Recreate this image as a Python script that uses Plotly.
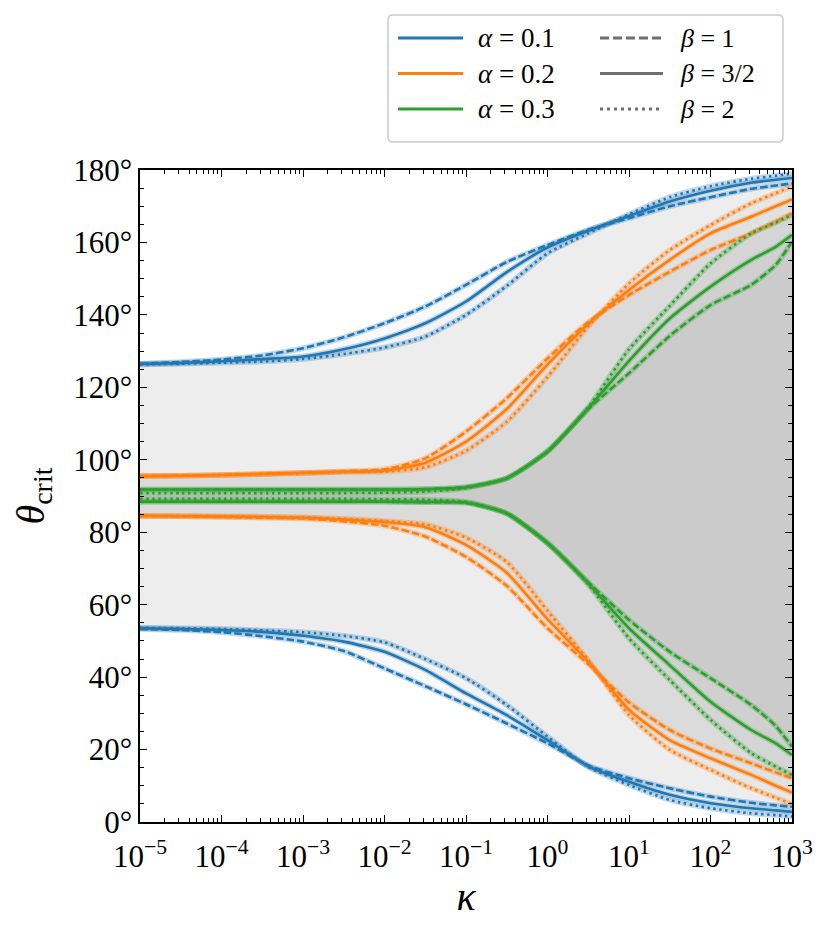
import plotly.graph_objects as go

# kappa sample points (half decades, plus one near the right edge)
kappa = [1e-5, 3.16e-5, 1e-4, 3.16e-4, 1e-3, 3.16e-3, 1e-2, 3.16e-2, 0.1, 0.316,
         1, 3.16, 10, 31.6, 100, 316, 631, 1000]

# alpha = 0.1  (upper / lower branch for beta = 1, 3/2, 2)
a01_b1_up = [126.5, 127.0, 127.7, 128.8, 130.8, 133.8, 137.7, 142.3, 148.3, 154.6, 159.3, 163.5, 166.7, 170.0, 172.5, 174.8, 175.7, 176.3]
a01_b15_up = [126.5, 126.7, 127.2, 127.8, 128.5, 130.5, 133.5, 137.7, 143.7, 151.8, 158.6, 163.3, 167.3, 171.3, 174.3, 176.5, 177.3, 177.8]
a01_b2_up = [126.3, 126.5, 126.8, 127.1, 127.8, 129.2, 131.0, 134.0, 140.0, 148.0, 157.0, 162.5, 167.8, 172.5, 175.5, 177.6, 178.4, 179.0]
a01_b1_lo = [53.3, 53.0, 52.4, 51.3, 49.8, 47.2, 42.4, 37.5, 32.5, 27.2, 21.7, 15.6, 12.1, 9.3, 7.0, 5.3, 4.6, 4.2]
a01_b15_lo = [53.5, 53.3, 53.0, 52.5, 51.4, 49.8, 47.0, 42.0, 35.5, 29.5, 22.6, 15.4, 11.1, 7.5, 5.2, 3.8, 3.2, 2.8]
a01_b2_lo = [53.6, 53.5, 53.3, 52.9, 52.4, 51.4, 49.6, 45.0, 39.7, 32.3, 23.6, 15.2, 10.2, 6.1, 3.8, 2.4, 1.9, 1.5]

# alpha = 0.2
a02_b1_up = [95.5, 95.6, 95.8, 96.1, 96.4, 96.8, 97.4, 100.4, 107.8, 117.0, 128.0, 138.0, 145.5, 151.9, 157.9, 162.5, 165.8, 168.0]
a02_b15_up = [95.5, 95.6, 95.8, 96.1, 96.4, 96.7, 97.0, 99.2, 105.0, 114.0, 126.3, 137.5, 146.9, 155.2, 162.5, 167.1, 170.0, 171.9]
a02_b2_up = [95.5, 95.6, 95.8, 96.0, 96.3, 96.6, 96.7, 97.9, 102.5, 110.5, 122.9, 136.8, 148.7, 157.9, 164.8, 170.8, 173.6, 175.4]
a02_b1_lo = [84.5, 84.4, 84.2, 84.0, 83.8, 83.0, 81.8, 78.8, 73.2, 65.2, 53.5, 43.6, 33.0, 25.4, 20.3, 16.2, 13.7, 12.1]
a02_b15_lo = [84.5, 84.4, 84.3, 84.2, 84.0, 83.5, 82.8, 81.4, 76.5, 68.8, 56.0, 44.3, 31.0, 22.6, 17.6, 13.0, 10.0, 8.1]
a02_b2_lo = [84.5, 84.5, 84.4, 84.3, 84.1, 83.7, 83.1, 82.2, 78.5, 71.8, 58.3, 44.7, 29.5, 19.9, 14.4, 9.3, 6.7, 5.0]

# alpha = 0.3
a03_b1_up = [91.8, 91.8, 91.8, 91.8, 91.8, 91.8, 91.8, 91.9, 92.5, 94.9, 102.3, 114.0, 123.9, 134.2, 142.7, 148.3, 153.8, 160.2]
a03_b15_up = [91.8, 91.8, 91.8, 91.8, 91.8, 91.8, 91.8, 91.9, 92.4, 94.9, 102.3, 114.2, 127.3, 139.0, 147.8, 155.2, 158.8, 162.1]
a03_b2_up = [90.8, 90.8, 90.8, 90.8, 90.8, 90.8, 90.9, 91.2, 92.2, 94.9, 102.3, 114.5, 130.5, 142.5, 154.2, 162.5, 165.5, 167.6]
a03_b1_lo = [88.4, 88.4, 88.4, 88.4, 88.4, 88.4, 88.4, 88.3, 88.1, 85.2, 77.0, 66.2, 55.8, 47.0, 39.7, 32.3, 26.5, 20.8]
a03_b15_lo = [88.4, 88.4, 88.4, 88.4, 88.4, 88.4, 88.4, 88.3, 88.2, 85.2, 77.0, 65.9, 53.5, 43.3, 33.2, 25.4, 21.7, 18.5]
a03_b2_lo = [89.2, 89.2, 89.2, 89.2, 89.2, 89.2, 89.1, 89.0, 88.4, 85.2, 77.0, 65.6, 50.7, 39.2, 28.2, 19.0, 15.3, 13.0]

alphas = ['0.1', '0.2', '0.3']
betas = ['1', '3/2', '2']
curves = {
    ('0.1', '1'): (a01_b1_lo, a01_b1_up),
    ('0.1', '3/2'): (a01_b15_lo, a01_b15_up),
    ('0.1', '2'): (a01_b2_lo, a01_b2_up),
    ('0.2', '1'): (a02_b1_lo, a02_b1_up),
    ('0.2', '3/2'): (a02_b15_lo, a02_b15_up),
    ('0.2', '2'): (a02_b2_lo, a02_b2_up),
    ('0.3', '1'): (a03_b1_lo, a03_b1_up),
    ('0.3', '3/2'): (a03_b15_lo, a03_b15_up),
    ('0.3', '2'): (a03_b2_lo, a03_b2_up),
}

x_tickvals = [1e-5, 1e-4, 1e-3, 1e-2, 1e-1, 1, 10, 100, 1000]
x_ticktext = ['10<sup>−5</sup>', '10<sup>−4</sup>', '10<sup>−3</sup>', '10<sup>−2</sup>',
              '10<sup>−1</sup>', '10<sup>0</sup>', '10<sup>1</sup>', '10<sup>2</sup>', '10<sup>3</sup>']

colors = {'0.1': '#1f77b4', '0.2': '#ff7f0e', '0.3': '#2ca02c'}
halo = {'0.1': 'rgba(31,119,180,0.28)', '0.2': 'rgba(255,127,14,0.28)', '0.3': 'rgba(44,160,44,0.28)'}
dashes = {'1': '7.5px,3px', '3/2': 'solid', '2': '2.5px,3.5px'}

FONT = 'Liberation Serif'
SMOOTH = 0.6

fig = go.Figure()

# grey shading between the branches, one translucent layer per (alpha, beta)
for a in alphas:
    for b in betas:
        lo, up = curves[(a, b)]
        fig.add_trace(go.Scatter(x=kappa, y=lo, mode='lines',
                                 line=dict(width=0, shape='spline', smoothing=SMOOTH),
                                 showlegend=False, hoverinfo='skip'))
        fig.add_trace(go.Scatter(x=kappa, y=up, mode='lines',
                                 line=dict(width=0, shape='spline', smoothing=SMOOTH),
                                 fill='tonexty', fillcolor='rgba(0,0,0,0.022)',
                                 showlegend=False, hoverinfo='skip'))

# faint wide band under each line
for a in alphas:
    for b in betas:
        for y in curves[(a, b)]:
            fig.add_trace(go.Scatter(x=kappa, y=y, mode='lines',
                                     line=dict(color=halo[a], width=5.5, shape='spline', smoothing=SMOOTH),
                                     showlegend=False, hoverinfo='skip'))

for a in alphas:
    for b in betas:
        for y in curves[(a, b)]:
            fig.add_trace(go.Scatter(x=kappa, y=y, mode='lines',
                                     line=dict(color=colors[a], width=2.6, dash=dashes[b],
                                               shape='spline', smoothing=SMOOTH),
                                     showlegend=False))

# page body has an 8px offset, so the figure is laid out in page pixels minus 8
OFF = 8
W, H = 831 - OFF, 930 - OFF
L, R, T, B = 140 - OFF, 792 - OFF, 170 - OFF, 822 - OFF


def px(xp):
    return (xp - OFF - L) / (R - L)


def py(yp):
    return (B - (yp - OFF)) / (B - T)


shapes = []
annotations = []

# legend box with rounded corners
x0, x1, y0, y1 = px(388), px(783), py(142), py(15)
rx, ry = 5 / (R - L), 5 / (B - T)
shapes.append(dict(
    type='path', xref='paper', yref='paper',
    path=(f'M {x0+rx},{y0} L {x1-rx},{y0} Q {x1},{y0} {x1},{y0+ry} '
          f'L {x1},{y1-ry} Q {x1},{y1} {x1-rx},{y1} L {x0+rx},{y1} '
          f'Q {x0},{y1} {x0},{y1-ry} L {x0},{y0+ry} Q {x0},{y0} {x0+rx},{y0} Z'),
    line=dict(color='#cccccc', width=1.5), fillcolor='rgba(255,255,255,0.85)'))

rows = [38, 73.5, 109]
for i, a in enumerate(alphas):
    shapes.append(dict(type='line', xref='paper', yref='paper',
                       x0=px(398), x1=px(463), y0=py(rows[i]), y1=py(rows[i]),
                       line=dict(color=colors[a], width=3)))
    annotations.append(dict(xref='paper', yref='paper', x=px(476), y=py(rows[i]),
                            xanchor='left', yanchor='middle', showarrow=False,
                            text=f'<i>α</i> = {a}',
                            font=dict(family=FONT, size=27, color='black')))
for i, b in enumerate(betas):
    shapes.append(dict(type='line', xref='paper', yref='paper',
                       x0=px(600), x1=px(663), y0=py(rows[i]), y1=py(rows[i]),
                       line=dict(color='#6e6e6e', width=3,
                                 dash={'1': '9px,4px', '3/2': 'solid', '2': '3px,4px'}[b])))
    annotations.append(dict(xref='paper', yref='paper', x=px(678), y=py(rows[i]),
                            xanchor='left', yanchor='middle', showarrow=False,
                            text=f'<i>β</i> = {b}',
                            font=dict(family=FONT, size=26, color='black')))

minor_x = [m * 10.0 ** e for e in range(-5, 3) for m in range(2, 10)]

fig.update_layout(
    width=W, height=H,
    margin=dict(l=L, r=W - R, t=T, b=H - B),
    plot_bgcolor='white', paper_bgcolor='white',
    showlegend=False,
    shapes=shapes, annotations=annotations,
    xaxis=dict(
        type='log', range=[-5, 3],
        tickmode='array', tickvals=x_tickvals, ticktext=x_ticktext,
        ticks='inside', ticklen=7, tickwidth=1.3, tickcolor='black',
        ticklabelstandoff=6,
        minor=dict(tickmode='array', tickvals=minor_x, ticks='inside',
                   ticklen=4, tickwidth=1, tickcolor='black', showgrid=False),
        showline=True, linecolor='black', linewidth=1.5, mirror='allticks',
        showgrid=False, zeroline=False,
        tickfont=dict(family=FONT, size=31, color='black'),
        title=dict(text='<i>κ</i>', standoff=8,
                   font=dict(family=FONT, size=40, color='black')),
    ),
    yaxis=dict(
        range=[0, 180], tickmode='linear', tick0=0, dtick=20, ticksuffix='°',
        ticks='inside', ticklen=7, tickwidth=1.3, tickcolor='black',
        minor=dict(dtick=5, ticks='inside', ticklen=4, tickwidth=1,
                   tickcolor='black', showgrid=False),
        showline=True, linecolor='black', linewidth=1.5, mirror='allticks',
        showgrid=False, zeroline=False,
        tickfont=dict(family=FONT, size=31, color='black'),
        title=dict(text='<i>θ</i><sub>crit</sub>', standoff=20,
                   font=dict(family=FONT, size=40, color='black')),
    ),
)

fig.write_html("out.html")
